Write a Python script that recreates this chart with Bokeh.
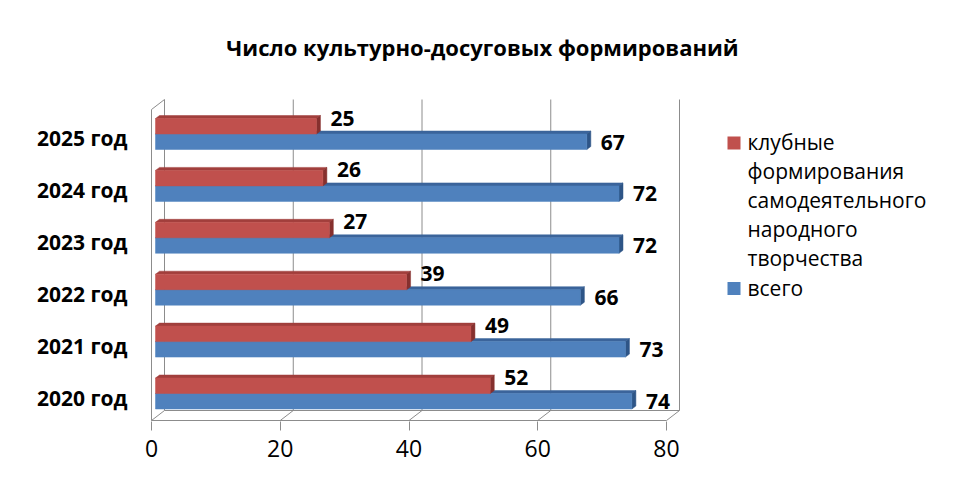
from bokeh.plotting import figure
from bokeh.models import FixedTicker, Label, LabelSet, BoxAnnotation, ColumnDataSource, Range1d
from bokeh.core.properties import value
from bokeh.embed import file_html
from bokeh.resources import INLINE

# ---------------- data ----------------
categories = ["2020 год", "2021 год", "2022 год", "2023 год", "2024 год", "2025 год"]
club = [52, 49, 39, 27, 26, 25]
total = [74, 73, 66, 72, 72, 67]
x_ticks = [0, 20, 40, 60, 80]
club_name_lines = ["клубные", "формирования", "самодеятельного", "народного", "творчества"]
total_name = "всего"
title_text = "Число культурно-досуговых формирований"

# ---------------- geometry (pixels) ----------------
W, H = 952, 472
FL, FR, FT, FB = 148, 950, 2, 421          # frame edges
X0PX = 151                                  # pixel of x = 0 on the front plane
PX_X = 515.0 / 80                           # pixels per x unit
Y0PX = 397                                  # pixel of category 0 on the front plane
PX_Y = 51.9                                 # pixels per category

def dx(px):
    return px / PX_X

def dy(px):
    return px / PX_Y

def xdata(px):
    return (px - X0PX) / PX_X

def ydata(py):
    return (Y0PX - py) / PX_Y

DX, DY = dx(13), dy(10)          # full depth of the 3D box
BX0, BY0 = dx(4), dy(4)          # depth position of the bars
BDX, BDY = dx(4), dy(3)          # depth of each bar
HB = dy(15.5)                    # thickness of each bar
y_floor = ydata(420)
y_wall_top = ydata(99)

p = figure(width=W, height=H, output_backend="svg", toolbar_location=None,
           x_range=Range1d(xdata(FL), xdata(FR)), y_range=Range1d(ydata(FB), ydata(FT)),
           min_border_left=FL, min_border_right=W - FR, min_border_top=FT, min_border_bottom=H - FB)
p.outline_line_color = None
p.background_fill_color = "white"
p.border_fill_color = "white"
p.xgrid.visible = False
p.ygrid.visible = False

GRAY = "#8c8c8c"
n = len(x_ticks)
xmax = x_ticks[-1]

# back wall grid lines
p.segment(x0=[t + DX for t in x_ticks], y0=[y_floor + DY] * n,
          x1=[t + DX for t in x_ticks], y1=[y_wall_top] * n, line_color=GRAY, line_width=1)
# floor: front edge, back edge, diagonals
p.segment(x0=[0, DX], y0=[y_floor, y_floor + DY], x1=[xmax, xmax + DX], y1=[y_floor, y_floor + DY],
          line_color=GRAY, line_width=1)
p.segment(x0=x_ticks, y0=[y_floor] * n, x1=[t + DX for t in x_ticks], y1=[y_floor + DY] * n,
          line_color=GRAY, line_width=1)
# left wall: front vertical and top diagonal
p.segment(x0=[0, 0], y0=[y_floor, y_wall_top - DY], x1=[0, DX], y1=[y_wall_top - DY, y_wall_top],
          line_color=GRAY, line_width=1)

idx = list(range(len(categories)))

def bar3d(vals, bottoms, front, topc, endc):
    tops = [b + HB for b in bottoms]
    rights = [v + BX0 for v in vals]
    p.patches(xs=[[BX0, r, r + BDX, BX0 + BDX] for r in rights],
              ys=[[t, t, t + BDY, t + BDY] for t in tops],
              fill_color=topc, line_color=topc, line_width=0.5)
    p.patches(xs=[[r, r + BDX, r + BDX, r] for r in rights],
              ys=[[b, b + BDY, t + BDY, t] for b, t in zip(bottoms, tops)],
              fill_color=endc, line_color=endc, line_width=0.5)
    p.quad(left=[BX0] * len(vals), right=rights, bottom=bottoms, top=tops,
           fill_color=front, line_color=front, line_width=0.5)

# blue (всего) below, red (club) above
bar3d(total, [i + BY0 - HB for i in idx], "#4F81BD", "#3B649B", "#2E5587")
bar3d(club, [i + BY0 for i in idx], "#C0504D", "#A13F3C", "#86302E")

# data labels
FONT = "Open Sans"
src_r = ColumnDataSource(dict(x=[v + dx(18) for v in club], y=[i + dy(20) for i in idx],
                              t=[str(v) for v in club]))
src_b = ColumnDataSource(dict(x=[v + dx(18) for v in total], y=[i - dy(4) for i in idx],
                              t=[str(v) for v in total]))
for s in (src_r, src_b):
    p.add_layout(LabelSet(x="x", y="y", text="t", source=s, text_font=value(FONT),
                          text_font_style="bold", text_font_size="21px", text_color="black",
                          text_align="left", text_baseline="middle"))

# axes
p.xaxis.ticker = FixedTicker(ticks=x_ticks)
p.xaxis.axis_line_color = None
p.xaxis.major_tick_in = 0
p.xaxis.major_tick_out = 9
p.xaxis.major_tick_line_color = GRAY
p.xaxis.minor_tick_line_color = None
p.xaxis.major_label_standoff = 9
p.xaxis.major_label_text_font = FONT
p.xaxis.major_label_text_font_size = "23px"
p.xaxis.major_label_text_color = "black"

p.yaxis.ticker = FixedTicker(ticks=idx)
p.yaxis.major_label_overrides = {i: c for i, c in zip(idx, categories)}
p.yaxis.axis_line_color = None
p.yaxis.major_tick_line_color = None
p.yaxis.minor_tick_line_color = None
p.yaxis.major_tick_in = 0
p.yaxis.major_tick_out = 0
p.yaxis.major_label_standoff = 21
p.yaxis.major_label_text_font = FONT
p.yaxis.major_label_text_font_style = "bold"
p.yaxis.major_label_text_font_size = "21px"
p.yaxis.major_label_text_color = "black"

# title
p.add_layout(Label(x=xdata(482), y=ydata(46), text=title_text, text_font=FONT,
                   text_font_style="bold", text_font_size="22px", text_color="black",
                   text_align="center", text_baseline="middle"))

# legend (manual)
LEG_X = 747
line_h = 29.1
first = 141.5
for k, line in enumerate(club_name_lines):
    p.add_layout(Label(x=xdata(LEG_X), y=ydata(first + k * line_h), text=line, text_font=FONT,
                       text_font_size="21px", text_color="black",
                       text_align="left", text_baseline="middle"))
p.add_layout(Label(x=xdata(LEG_X), y=ydata(first + 5 * line_h), text=total_name, text_font=FONT,
                   text_font_size="21px", text_color="black", text_align="left", text_baseline="middle"))
p.add_layout(BoxAnnotation(left=xdata(727), right=xdata(740), top=ydata(136), bottom=ydata(149),
                           fill_color="#C0504D", fill_alpha=1, line_color=None))
p.add_layout(BoxAnnotation(left=xdata(727), right=xdata(740), top=ydata(136 + 5 * line_h),
                           bottom=ydata(149 + 5 * line_h),
                           fill_color="#4F81BD", fill_alpha=1, line_color=None))

open("out.html", "w").write(file_html(p, INLINE))
